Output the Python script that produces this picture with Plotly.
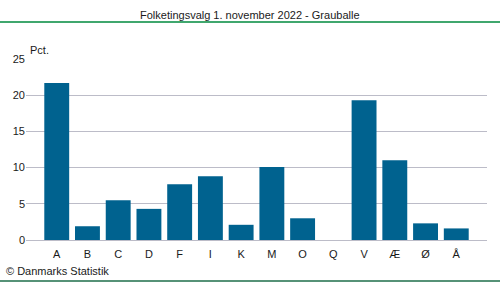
import plotly.graph_objects as go

categories = ["A", "B", "C", "D", "F", "I", "K", "M", "O", "Q", "V", "Æ", "Ø", "Å"]
values = [21.7, 1.9, 5.5, 4.3, 7.7, 8.8, 2.1, 10.1, 3.0, 0.0, 19.3, 11.0, 2.3, 1.6]
y_ticks = [0, 5, 10, 15, 20, 25]
title_text = "Folketingsvalg 1. november 2022 - Grauballe"
unit_text = "Pct."
source_text = "© Danmarks Statistik"

FONT = "Liberation Sans, Arial, sans-serif"
TEXT = "#1a1a1a"

fig = go.Figure(go.Bar(
    x=list(range(len(categories))),
    y=values,
    marker=dict(color="#00628f", line=dict(width=0)),
    width=0.81,
    hoverinfo="skip",
))

fig.update_layout(
    width=500, height=282,
    margin=dict(l=26, r=13, t=59, b=42),
    paper_bgcolor="white", plot_bgcolor="white",
    showlegend=False,
    font=dict(family=FONT, size=11, color=TEXT),
    xaxis=dict(
        range=[-1, len(categories)],
        tickmode="array",
        tickvals=list(range(len(categories))),
        ticktext=categories,
        showgrid=False, zeroline=False, showline=False,
        ticks="", ticklen=0,
        ticklabelstandoff=6,
        tickfont=dict(family=FONT, size=11, color=TEXT),
        fixedrange=True,
    ),
    yaxis=dict(
        range=[0, 25],
        tickmode="array",
        tickvals=y_ticks,
        showgrid=True, gridcolor="#bcbcc8", gridwidth=1,
        zeroline=True, zerolinecolor="#bcbcc8", zerolinewidth=1,
        showline=False, ticks="",
        tickfont=dict(family=FONT, size=11, color=TEXT),
        fixedrange=True,
    ),
    shapes=[
        dict(type="line", xref="paper", yref="paper",
             x0=-26/461, x1=(500-26)/461, y0=(282-42-22)/181, y1=(282-42-22)/181,
             line=dict(color="#008a3e", width=1.5)),
        dict(type="line", xref="paper", yref="paper",
             x0=-26/461, x1=(500-26)/461, y0=(282-42-281)/181, y1=(282-42-281)/181,
             line=dict(color="#1e6e4a", width=1.5)),
    ],
    annotations=[
        dict(text=title_text, xref="paper", yref="paper",
             x=(250-26)/461, y=(240-15)/181, xanchor="center", yanchor="middle",
             showarrow=False, font=dict(family=FONT, size=11, color=TEXT)),
        dict(text=unit_text, xref="paper", yref="paper",
             x=2/461, y=(240-50)/181, xanchor="left", yanchor="middle",
             showarrow=False, font=dict(family=FONT, size=11, color=TEXT)),
        dict(text=source_text, xref="paper", yref="paper",
             x=-22/461, y=(240-271)/181, xanchor="left", yanchor="middle",
             showarrow=False, font=dict(family=FONT, size=11, color=TEXT)),
    ],
)

fig.write_html(
    "out.html",
    config={"displayModeBar": False},
    post_script="document.body.style.margin='0';document.body.style.overflow='hidden';",
)
